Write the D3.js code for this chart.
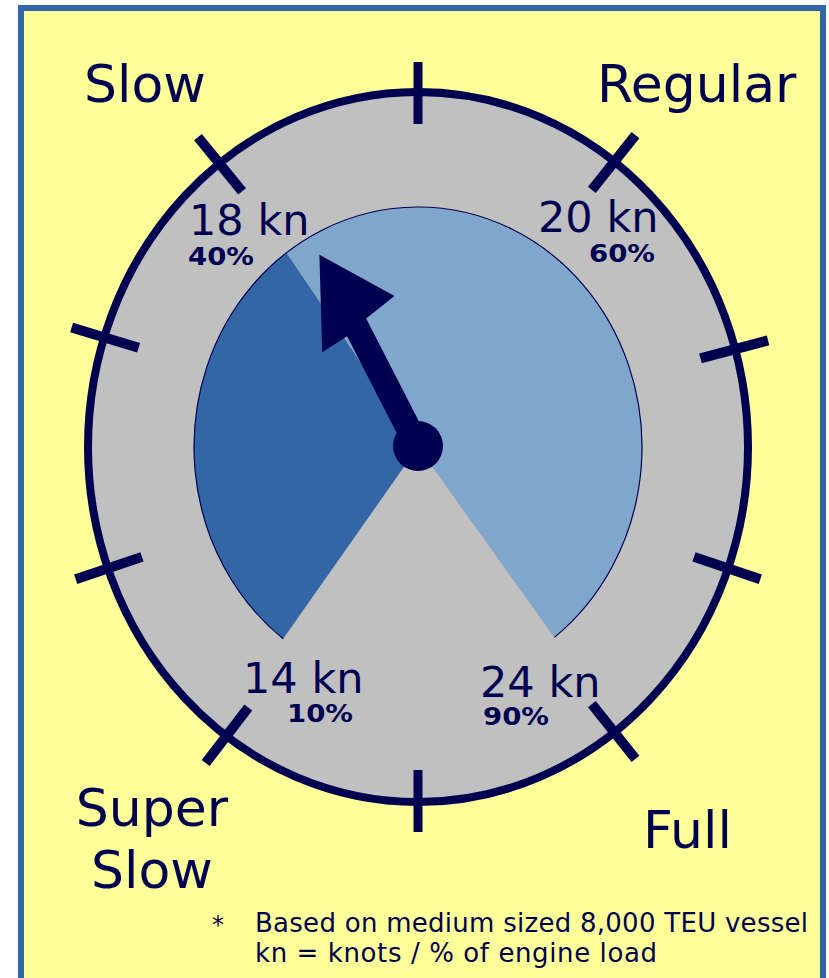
<!DOCTYPE html>
<html>
<head>
<meta charset="utf-8">
<script src="https://cdn.jsdelivr.net/npm/d3@7"></script>
<style>
  html, body { margin: 0; padding: 0; background: #ffffff; }
  svg { display: block; }
  text { font-family: "DejaVu Sans", Verdana, sans-serif; fill: #000050; }
</style>
</head>
<body>
<script>
// ---------- data ----------
const modes = ["Slow", "Regular", "Super Slow", "Full"];
const speeds = ["14 kn", "18 kn", "20 kn", "24 kn"];
const loads = [10, 40, 60, 90];            // % of engine load
const sectorFrom = [10, 40];               // coloured sectors, % load
const sectorTo = [40, 90];
const needleLoad = 42;                     // needle position, % load
const tickAngles = [90, 53.5, 16, -20, -53.5, -90, -125.5, -160, 162, 127]; // dial tick marks (deg)
const footnote = ["Based on medium sized 8,000 TEU vessel", "kn = knots / % of engine load"];

// ---------- layout ----------
const W = 829, H = 978;
const cx = 418, cy = 447;
const outerRx = 330, outerRy = 355;
const innerRx = 224, innerRy = 240;
const navy = "#000050", gray = "#c0c0c0";
const sectorColors = ["#3366a6", "#80a6cc"];

const svg = d3.select("body").append("svg").attr("width", W).attr("height", H);

// panel
svg.append("rect").attr("x", 21).attr("y", 8).attr("width", 802).attr("height", 1100)
  .attr("fill", "#ffff99").attr("stroke", "#3366a6").attr("stroke-width", 6);

// outer dial
svg.append("ellipse").attr("cx", cx).attr("cy", cy).attr("rx", outerRx).attr("ry", outerRy)
  .attr("fill", gray).attr("stroke", navy).attr("stroke-width", 8);

// ticks
const tickG = svg.append("g");
tickAngles.forEach(t => {
  const th = t * Math.PI / 180;
  const px = cx + outerRx * Math.cos(th), py = cy - outerRy * Math.sin(th);
  let nx = Math.cos(th) / outerRx, ny = -Math.sin(th) / outerRy;
  const l = Math.hypot(nx, ny); nx /= l; ny /= l;
  const vertical = Math.abs(Math.abs(t) - 90) < 1;
  const inL = vertical ? 32 : 36, outL = vertical ? 30 : 34;
  tickG.append("line")
    .attr("x1", px - nx * inL).attr("y1", py - ny * inL)
    .attr("x2", px + nx * outL).attr("y2", py + ny * outL)
    .attr("stroke", navy).attr("stroke-width", vertical ? 9 : 10);
});

// load -> angle scale
const angle = d3.scaleLinear().domain([10, 90]).range([-143, 142.5].map(d => d * Math.PI / 180));

// sectors
const pieG = svg.append("g").attr("transform", `translate(${cx},${cy}) scale(1,${innerRy / innerRx})`);
const arc = d3.arc().innerRadius(0).outerRadius(innerRx);
sectorFrom.forEach((f, i) => {
  pieG.append("path")
    .attr("d", arc({ startAngle: angle(f), endAngle: angle(sectorTo[i]) }))
    .attr("fill", sectorColors[i]);
});
// thin outline along the rim
pieG.append("path")
  .attr("d", d3.arc().innerRadius(innerRx).outerRadius(innerRx)({ startAngle: angle(sectorFrom[0]), endAngle: angle(sectorTo[sectorTo.length - 1]) }))
  .attr("fill", "none").attr("stroke", navy).attr("stroke-width", 1.2)
  .attr("vector-effect", "non-scaling-stroke");

// needle
const a = angle(needleLoad);
const dx = Math.sin(a), dy = -Math.cos(a) * innerRy / innerRx;
const rot = Math.atan2(dx, -dy) * 180 / Math.PI;
const needleG = svg.append("g").attr("transform", `translate(${cx},${cy}) rotate(${rot})`);
needleG.append("path")
  .attr("d", "M-12.5,0 L-12.5,-131 L-42,-128 L0,-216 L48,-145 L12.5,-138 L12.5,0 Z")
  .attr("fill", navy);
svg.append("circle").attr("cx", cx).attr("cy", cy - 1).attr("r", 25).attr("fill", navy);

// mode labels
const modePos = [
  { x: 84, y: 102, anchor: "start" },
  { x: 597, y: 102, anchor: "start" },
  { x: 152, y: 826, anchor: "middle" },
  { x: 643, y: 848, anchor: "start" }
];
modes.forEach((m, i) => {
  const p = modePos[i];
  const words = m.split(" ");
  const t = svg.append("text").attr("x", p.x).attr("y", p.y).attr("text-anchor", p.anchor)
    .style("font-size", "52px");
  words.forEach((w, j) => {
    t.append("tspan").attr("x", p.x).attr("dy", j === 0 ? 0 : 62).text(w);
  });
});

// speed / load labels
const speedPos = [
  { x: 243, y: 693, px: 287, py: 722 },
  { x: 189, y: 235, px: 188, py: 265 },
  { x: 538, y: 232, px: 589, py: 262 },
  { x: 480, y: 697, px: 483, py: 725 }
];
speeds.forEach((s, i) => {
  const p = speedPos[i];
  svg.append("text").attr("x", p.x).attr("y", p.y).style("font-size", "43px").text(s);
  svg.append("text").attr("x", p.px).attr("y", p.py).style("font-size", "24px")
    .style("font-weight", "bold")
    .attr("textLength", 66).attr("lengthAdjust", "spacingAndGlyphs")
    .text(loads[i] + "%");
});

// footnote
svg.append("text").attr("x", 212).attr("y", 933).style("font-size", "24px").text("*");
const footLen = [553, 402];
footnote.forEach((f, i) => {
  svg.append("text").attr("x", 255).attr("y", 932 + i * 30).style("font-size", "26px")
    .attr("textLength", footLen[i]).text(f);
});
</script>
</body>
</html>
